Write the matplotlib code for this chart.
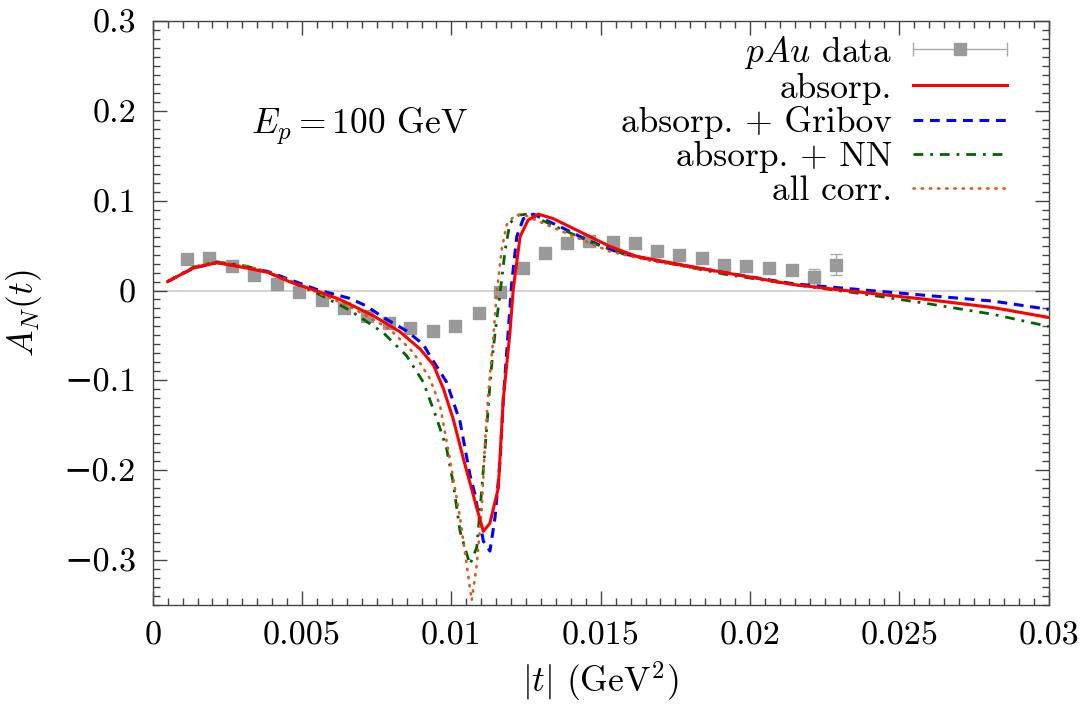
import matplotlib
matplotlib.use("Agg")
import matplotlib.pyplot as plt
import numpy as np
from matplotlib.lines import Line2D
from matplotlib.legend_handler import HandlerBase
from matplotlib.container import ErrorbarContainer
from matplotlib.ticker import MultipleLocator, FixedLocator, FixedFormatter

plt.rcParams['mathtext.fontset'] = 'cm'
plt.rcParams['font.family'] = ['cmr10', 'DejaVu Serif']
plt.rcParams['axes.unicode_minus'] = False
plt.rcParams['axes.formatter.use_mathtext'] = True

# ---- data ----
data_t = [0.00116, 0.00188, 0.00265, 0.0034, 0.00415, 0.00489, 0.00566, 0.00639, 0.00716,
          0.0079, 0.00862, 0.0094, 0.01013, 0.01091, 0.01163, 0.01241, 0.01313, 0.01386,
          0.01461, 0.01542, 0.01615, 0.01687, 0.01763, 0.01838, 0.01914, 0.01986, 0.02063,
          0.02139, 0.02214, 0.02288]
data_A = [0.035, 0.036, 0.027, 0.0173, 0.0077, -0.0015, -0.0107, -0.0199, -0.0287,
          -0.0357, -0.042, -0.045, -0.0398, -0.0246, -0.002, 0.025, 0.042, 0.0527,
          0.0553, 0.0538, 0.0527, 0.0445, 0.0398, 0.036, 0.028, 0.027, 0.025,
          0.0232, 0.0147, 0.0287]
data_err = [0.003, 0.003, 0.003, 0.003, 0.003, 0.003, 0.003, 0.003, 0.003,
            0.003, 0.003, 0.003, 0.003, 0.003, 0.003, 0.003, 0.003, 0.003,
            0.003, 0.003, 0.003, 0.003, 0.003, 0.003, 0.004, 0.004, 0.004,
            0.005, 0.0095, 0.0118]

absorp_t = [0.0005, 0.00136, 0.00214, 0.00315, 0.00387, 0.0046, 0.00571, 0.00627, 0.00738,
            0.00828, 0.00895, 0.0094, 0.00973, 0.01006, 0.0104, 0.01085, 0.01107, 0.01129,
            0.01157, 0.01174, 0.01196, 0.01207, 0.0123, 0.01257, 0.01291, 0.01341, 0.0143,
            0.01531, 0.0162, 0.01732, 0.01922, 0.02145, 0.02368, 0.02591, 0.02814, 0.03]
absorp_A = [0.010, 0.025, 0.031, 0.025, 0.020, 0.0095, -0.003, -0.010, -0.028,
            -0.046, -0.065, -0.083, -0.109, -0.143, -0.187, -0.242, -0.268, -0.259,
            -0.220, -0.120, -0.047, 0.001, 0.060, 0.0785, 0.085, 0.080, 0.0655,
            0.049, 0.038, 0.031, 0.0195, 0.0066, -0.0018, -0.0099, -0.019, -0.030]

gribov_t = [0.0005, 0.00136, 0.00214, 0.00315, 0.00387, 0.0046, 0.0055, 0.0066, 0.00716,
            0.00772, 0.0085, 0.00906, 0.00928, 0.00984, 0.01029, 0.01062, 0.01079, 0.01107,
            0.01129, 0.01146, 0.01163, 0.01174, 0.0119, 0.01202, 0.01219, 0.01241, 0.01274,
            0.01364, 0.01453, 0.01564, 0.01698, 0.01922, 0.02145, 0.02368, 0.02591, 0.02814, 0.03]
gribov_A = [0.010, 0.025, 0.031, 0.026, 0.021, 0.012, 0.001, -0.0088, -0.0173,
            -0.030, -0.045, -0.060, -0.0726, -0.102, -0.146, -0.205, -0.227, -0.279,
            -0.290, -0.253, -0.190, -0.120, -0.047, 0.0085, 0.060, 0.080, 0.085,
            0.071, 0.0564, 0.0417, 0.0324, 0.0195, 0.0075, 0.001, -0.0055, -0.0118, -0.021]

nn_t = [0.0005, 0.00136, 0.00214, 0.00315, 0.00387, 0.0046, 0.0055, 0.0066, 0.00772,
        0.0085, 0.00906, 0.00951, 0.00984, 0.01006, 0.01029, 0.01062, 0.01085, 0.01101,
        0.01118, 0.01129, 0.0114, 0.01163, 0.0118, 0.01196, 0.01224, 0.01257, 0.01364,
        0.01475, 0.01587, 0.01698, 0.01922, 0.02145, 0.02368, 0.02591, 0.02814, 0.03]
nn_A = [0.010, 0.026, 0.032, 0.027, 0.020, 0.010, -0.003, -0.022, -0.047,
        -0.0726, -0.102, -0.1425, -0.176, -0.214, -0.268, -0.305, -0.286, -0.224,
        -0.154, -0.105, -0.065, -0.0025, 0.045, 0.075, 0.084, 0.085, 0.069,
        0.0527, 0.0398, 0.0324, 0.0177, 0.0066, -0.0033, -0.0144, -0.0265, -0.040]

all_t = [0.0005, 0.00136, 0.00214, 0.00315, 0.00387, 0.0046, 0.0055, 0.0066, 0.00794,
         0.00872, 0.00928, 0.00962, 0.00995, 0.01029, 0.01051, 0.01068, 0.01085, 0.01101,
         0.01112, 0.01124, 0.0114, 0.01152, 0.01168, 0.01185, 0.01213, 0.01246, 0.01285,
         0.01397, 0.01531, 0.01676, 0.01922, 0.02145, 0.02368, 0.02591, 0.02814, 0.03]
all_A = [0.010, 0.026, 0.032, 0.027, 0.021, 0.011, -0.002, -0.018, -0.043,
         -0.0688, -0.098, -0.128, -0.188, -0.253, -0.305, -0.345, -0.305, -0.246,
         -0.172, -0.113, -0.054, -0.0025, 0.045, 0.073, 0.084, 0.084, 0.078,
         0.062, 0.0434, 0.0324, 0.019, 0.0066, -0.0018, -0.0099, -0.019, -0.030]

x_ticks = [0, 0.005, 0.01, 0.015, 0.02, 0.025, 0.03]
x_labels = ['0', '0.005', '0.01', '0.015', '0.02', '0.025', '0.03']
y_ticks = [-0.3, -0.2, -0.1, 0, 0.1, 0.2, 0.3]
y_labels = ['\N{MINUS SIGN}0.3', '\N{MINUS SIGN}0.2', '\N{MINUS SIGN}0.1', '0', '0.1', '0.2', '0.3']

labels = [r'$pAu$ data', 'absorp.', 'absorp. + Gribov', 'absorp. + NN', 'all corr.']

FS_TICK = 24.5
FS = 25.5

fig = plt.figure(figsize=(10.81, 7.06), dpi=100)
ax = fig.add_axes([0.1413, 0.1431, 0.8288, 0.8272])

ax.axhline(0, color='#cccccc', lw=1.2, zorder=1)

eb = ax.errorbar(data_t, data_A, yerr=data_err, fmt='s', color='#999999', ms=8.5,
                 ecolor='#aaaaaa', elinewidth=1, capsize=4, capthick=1, zorder=2,
                 label=labels[0])
l1, = ax.plot(absorp_t, absorp_A, color='#ff0000', lw=2.2, zorder=5, label=labels[1])
l2, = ax.plot(gribov_t, gribov_A, color='#0000ff', lw=2.2, dashes=(3.2, 2.2), zorder=4,
              label=labels[2])
l3, = ax.plot(nn_t, nn_A, color='#006400', lw=2.0, dashes=(3.5, 2.5, 1, 2.5), zorder=4,
              label=labels[3])
l4, = ax.plot(all_t, all_A, color='#d95a20', lw=1.9, dashes=(0.5, 2.6),
              dash_capstyle='round', zorder=4, label=labels[4])

ax.set_xlim(0, 0.03)
ax.set_ylim(-0.35, 0.3)
ax.xaxis.set_major_locator(FixedLocator(x_ticks))
ax.xaxis.set_major_formatter(FixedFormatter(x_labels))
ax.yaxis.set_major_locator(FixedLocator(y_ticks))
ax.yaxis.set_major_formatter(FixedFormatter(y_labels))
ax.xaxis.set_minor_locator(MultipleLocator(0.0005))
ax.yaxis.set_minor_locator(MultipleLocator(0.01))
ax.tick_params(which='both', direction='in', top=True, right=True, colors='#444444',
               labelcolor='black', labelsize=FS_TICK, width=1)
ax.tick_params(which='major', length=10, pad=12)
ax.tick_params(which='minor', length=5)
for s in ax.spines.values():
    s.set_color('#444444')
    s.set_linewidth(1)

ax.set_xlabel(r'$|t|$ (GeV$^2$)', fontsize=FS, labelpad=6)
ax.set_ylabel(r'$A_N(t)$', fontsize=FS, labelpad=14)

ax.text(0.0033, 0.183, r'$E_p = 100$ GeV', fontsize=FS, va='center', ha='left')


class DataHandler(HandlerBase):
    def create_artists(self, legend, orig_handle, xdescent, ydescent, width, height,
                       fontsize, trans):
        y = height / 2 - ydescent
        x0, x1 = -xdescent, -xdescent + width
        line = Line2D([x0, x1], [y, y], color='#aaaaaa', lw=1, transform=trans)
        caps = Line2D([x0, x1], [y, y], ls='', marker='|', ms=10, mew=1,
                      color='#aaaaaa', transform=trans)
        sq = Line2D([(x0 + x1) / 2], [y], ls='', marker='s', ms=8.5,
                    color='#999999', transform=trans)
        return [line, caps, sq]


leg = ax.legend([eb, l1, l2, l3, l4], labels, loc='upper right',
                bbox_to_anchor=(0.9535, 0.978), frameon=False, markerfirst=False,
                fontsize=FS, handlelength=2.65, handletextpad=0.6, labelspacing=0.05,
                borderaxespad=0, borderpad=0,
                handler_map={ErrorbarContainer: DataHandler()})

fig.savefig('out.png', dpi=100)
